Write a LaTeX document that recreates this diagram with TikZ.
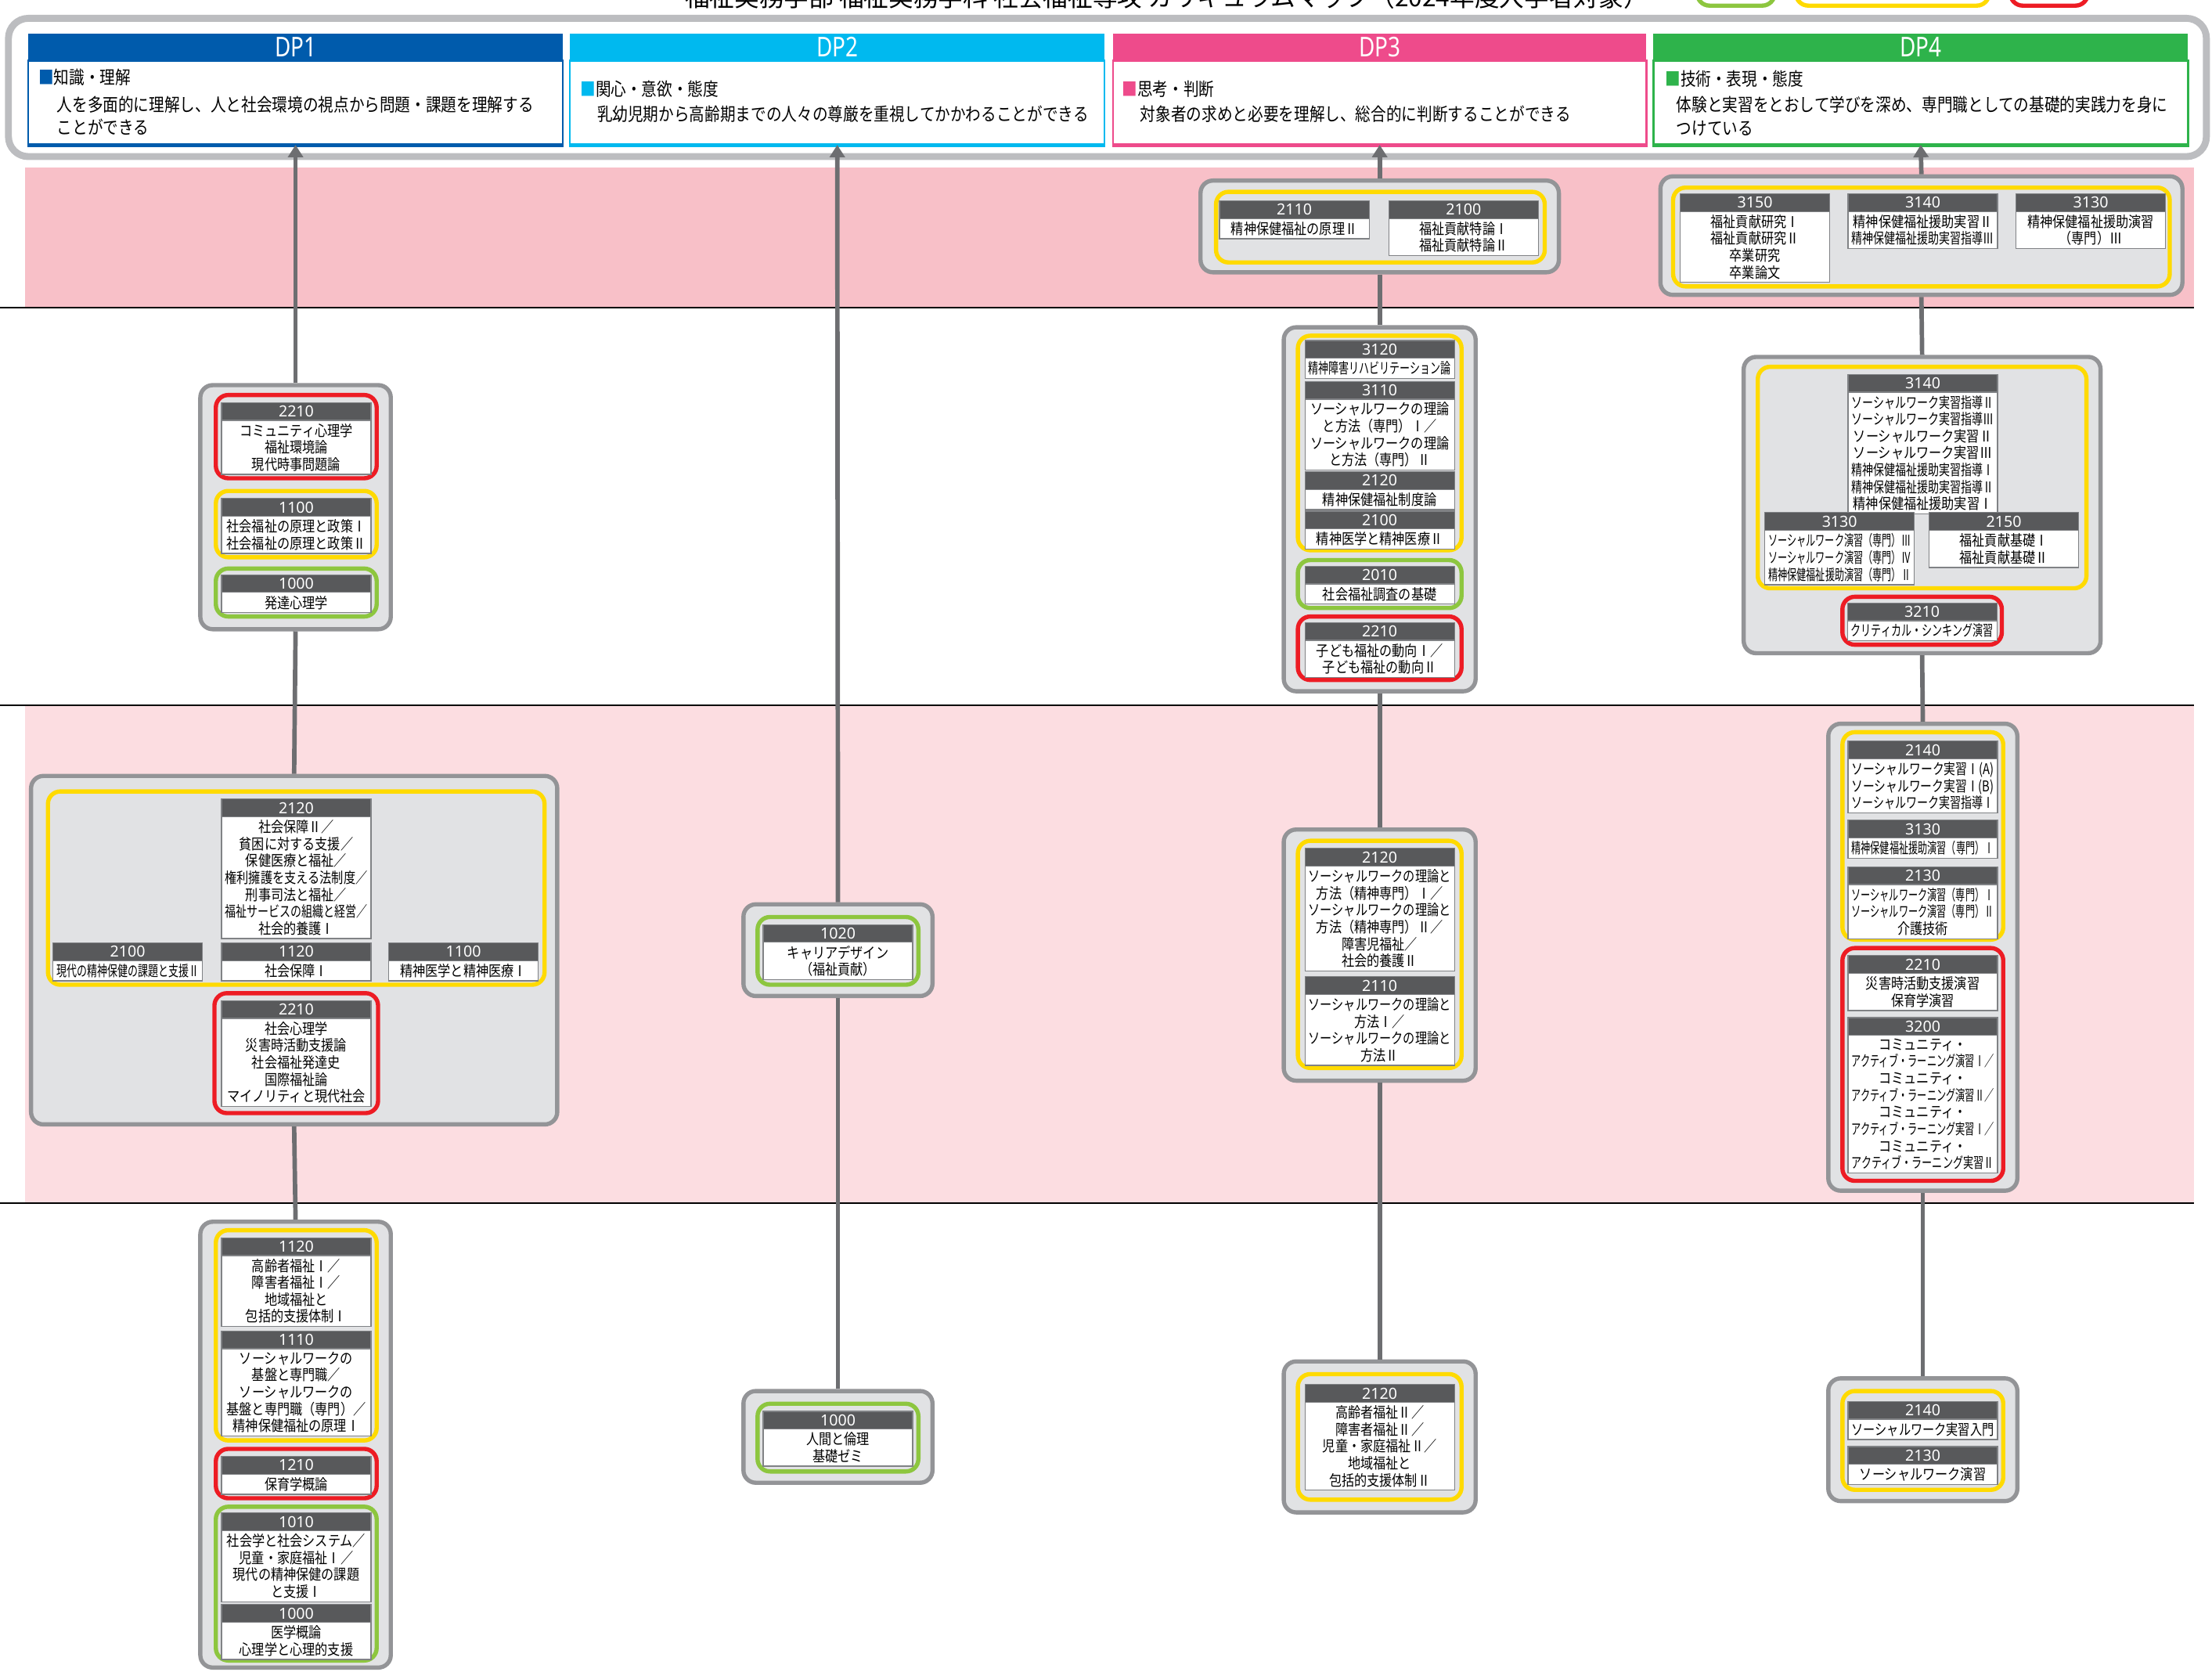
\documentclass[tikz,border=0pt]{standalone}
\usepackage{fontspec}
\usepackage{graphicx}
\usepackage{tikz}
\usetikzlibrary{arrows.meta}
\usetikzlibrary{shapes.multipart}
\usetikzlibrary{fit}

\newfontfamily\jpfont[FakeStretch=0.85]{Noto Sans CJK JP}
\newfontfamily\jpwide{Noto Sans CJK JP}
\newfontfamily\numfont{Noto Sans}
\newfontfamily\dpfont[FakeStretch=0.8]{Noto Sans}

\definecolor{dpone}{HTML}{005BAC}
\definecolor{dptwo}{HTML}{00B9EF}
\definecolor{dpthree}{HTML}{EE4B8B}
\definecolor{dpfour}{HTML}{2EB34B}
\definecolor{bandtop}{HTML}{F8C0C8}
\definecolor{bandmid}{HTML}{FCDDE1}
\definecolor{grpfill}{HTML}{E1E2E4}
\definecolor{grpline}{HTML}{939497}
\definecolor{fryel}{HTML}{FFDA00}
\definecolor{frgrn}{HTML}{8DC63F}
\definecolor{frred}{HTML}{ED1C24}
\definecolor{cardhead}{HTML}{58595B}
\definecolor{cardline}{HTML}{808285}
\definecolor{linkgray}{HTML}{6D6E71}
\definecolor{hdrline}{HTML}{BCBDC0}

\newsavebox\linebox
\newcommand{\cno}[1]{\textcolor{white}{\numfont\fontsize{6.2}{6.2}\selectfont #1}}
\newcommand{\nw}[1]{\sbox\linebox{#1}\ifdim\wd\linebox>2.02cm\resizebox{2.02cm}{\height}{#1}\else\usebox\linebox\fi}

\tikzstyle{grp}=[draw=grpline, fill=grpfill, line width=1.7pt, rounded corners=5pt, inner sep=0pt]
\tikzstyle{yfr}=[draw=fryel, line width=1.7pt, rounded corners=5pt, inner sep=0pt]
\tikzstyle{gfr}=[draw=frgrn, line width=1.7pt, rounded corners=5pt, inner sep=0pt]
\tikzstyle{rfr}=[draw=frred, line width=1.7pt, rounded corners=5pt, inner sep=0pt]
\tikzstyle{card}=[rectangle split, rectangle split parts=2, draw=cardline, line width=0.4pt, rectangle split part fill={cardhead,white}, text width=2.04cm, inner xsep=0.04cm, inner ysep=1.1pt, align=center, anchor=north, font=\jpfont\fontsize{6}{6.83}\selectfont]
\tikzstyle{dphead}=[inner sep=0pt]
\tikzstyle{dptitle}=[inner sep=0pt, text=white, font=\dpfont\fontsize{11}{12}\selectfont]
\tikzstyle{dpbody}=[fill=white, line width=0.8pt, inner sep=0pt]
\tikzstyle{dptext}=[anchor=west, inner sep=0pt, font=\jpfont\fontsize{7.3}{8}\selectfont]
\tikzstyle{link}=[draw=linkgray, line width=1.8pt]
\tikzstyle{uplink}=[link, -{Triangle[width=6pt,length=5pt]}]

\begin{document}
\begin{tikzpicture}[x=0.02cm, y=-0.02cm]
      \useasboundingbox (0,0) rectangle (1568,1185);
      \clip (0,0) rectangle (1568,1185);

      % year bands
      \fill[bandtop] (18,119) rectangle (1555,218);
      \fill[bandmid] (18,500) rectangle (1555,853);
      \draw[line width=0.6pt] (0,218) -- (1555,218);
      \draw[line width=0.6pt] (0,500) -- (1555,500);
      \draw[line width=0.6pt] (0,853) -- (1555,853);

      \node[anchor=base, inner sep=0pt, font=\jpwide\fontsize{10}{12}\selectfont] (title) at (827,4.5) {福祉実務学部 福祉実務学科 社会福祉専攻 カリキュラムマップ（2024年度入学者対象）};
      \node[gfr, fill=white, fit={(1203,-20) (1258,4)}] (leg1) {};
      \node[yfr, fill=white, fit={(1273,-20) (1410,4)}] (leg2) {};
      \node[rfr, fill=white, fit={(1425,-20) (1480,4)}] (leg3) {};

      \node[draw=hdrline, line width=2.8pt, rounded corners=8pt, inner sep=0pt, fit={(6,13) (1564,111)}] (frame) {};

      % DP boxes
      \node[dpbody, draw=dpone, fit={(20,43) (399,102)}] (dp1b) {};
      \node[dpbody, draw=dptwo, fit={(404,43) (783,102)}] (dp2b) {};
      \node[dpbody, draw=dpthree, fit={(789,43) (1167,102)}] (dp3b) {};
      \node[dpbody, draw=dpfour, fit={(1172,43) (1551,102)}] (dp4b) {};
      \draw[dpone, line width=1.6pt] (dp1b.south west) -- (dp1b.south east);
      \draw[dptwo, line width=1.6pt] (dp2b.south west) -- (dp2b.south east);
      \draw[dpthree, line width=1.6pt] (dp3b.south west) -- (dp3b.south east);
      \draw[dpfour, line width=1.6pt] (dp4b.south west) -- (dp4b.south east);
      \node[dphead, fill=dpone, fit={(20,24) (399,43)}] (dp1h) {};
      \node[dphead, fill=dptwo, fit={(404,24) (783,43)}] (dp2h) {};
      \node[dphead, fill=dpthree, fit={(789,24) (1167,43)}] (dp3h) {};
      \node[dphead, fill=dpfour, fit={(1172,24) (1551,43)}] (dp4h) {};
      \node[dptitle] (dp1n) at (dp1h) {DP1};
      \node[dptitle] (dp2n) at (dp2h) {DP2};
      \node[dptitle] (dp3n) at (dp3h) {DP3};
      \node[dptitle] (dp4n) at (dp4h) {DP4};

      \node[dptext] (dp1t1) at (27,55) {\textcolor{dpone}{■}知識・理解};
      \node[dptext] (dp1t2) at (40,74) {人を多面的に理解し、人と社会環境の視点から問題・課題を理解する};
      \node[dptext] (dp1t3) at (40,90) {ことができる};
      \node[dptext] (dp2t1) at (411,63) {\textcolor{dptwo}{■}関心・意欲・態度};
      \node[dptext] (dp2t2) at (423,81) {乳幼児期から高齢期までの人々の尊厳を重視してかかわることができる};
      \node[dptext] (dp3t1) at (795,63) {\textcolor{dpthree}{■}思考・判断};
      \node[dptext] (dp3t2) at (808,81) {対象者の求めと必要を理解し、総合的に判断することができる};
      \node[dptext] (dp4t1) at (1180,56) {\textcolor{dpfour}{■}技術・表現・態度};
      \node[dptext] (dp4t2) at (1188,74) {体験と実習をとおして学びを深め、専門職としての基礎的実践力を身に};
      \node[dptext] (dp4t3) at (1188,91) {つけている};

      % DP1
      \node[grp, fit={(142,273) (277,446)}] (ga1) {};
      \node[rfr, fit={(153,280) (267,339)}] {};
      \node[yfr, fit={(153,348) (267,395)}] {};
      \node[gfr, fit={(153,403) (267,437)}] {};
      \node[card] (ka11) at (210,285) {\cno{2210}\nodepart{two}コミュニティ心理学\\福祉環境論\\現代時事問題論};
      \node[card] (ka12) at (210,353) {\cno{1100}\nodepart{two}\nw{社会福祉の原理と政策Ⅰ}\\\nw{社会福祉の原理と政策Ⅱ}};
      \node[card] (ka13) at (210,407) {\cno{1000}\nodepart{two}発達心理学};

      \node[grp, fit={(22,550) (395,797)}] (ga2) {};
      \node[yfr, fit={(34,561) (386,698)}] {};
      \node[rfr, fit={(152,704) (268,789)}] {};
      \node[card] (ka21) at (210,566) {\cno{2120}\nodepart{two}社会保障Ⅱ／\\貧困に対する支援／\\保健医療と福祉／\\\nw{権利擁護を支える法制度／}\\刑事司法と福祉／\\\nw{福祉サービスの組織と経営／}\\社会的養護Ⅰ};
      \node[card] (ka22) at (90.5,668) {\cno{2100}\nodepart{two}\nw{現代の精神保健の課題と支援Ⅱ}};
      \node[card] (ka23) at (210,668) {\cno{1120}\nodepart{two}社会保障Ⅰ};
      \node[card] (ka24) at (328.5,668) {\cno{1100}\nodepart{two}\nw{精神医学と精神医療Ⅰ}};
      \node[card] (ka25) at (210,709) {\cno{2210}\nodepart{two}社会心理学\\災害時活動支援論\\社会福祉発達史\\国際福祉論\\\nw{マイノリティと現代社会}};

      \node[grp, fit={(142,866) (277,1182)}] (ga3) {};
      \node[yfr, fit={(153,872) (267,1021)}] {};
      \node[rfr, fit={(153,1027) (267,1062)}] {};
      \node[gfr, fit={(153,1068) (267,1177)}] {};
      \node[card] (ka31) at (210,877) {\cno{1120}\nodepart{two}高齢者福祉Ⅰ／\\障害者福祉Ⅰ／\\地域福祉と\\包括的支援体制Ⅰ};
      \node[card] (ka32) at (210,943) {\cno{1110}\nodepart{two}ソーシャルワークの\\基盤と専門職／\\ソーシャルワークの\\\nw{基盤と専門職（専門）／}\\\nw{精神保健福祉の原理Ⅰ}};
      \node[card] (ka33) at (210,1032) {\cno{1210}\nodepart{two}保育学概論};
      \node[card] (ka34) at (210,1072) {\cno{1010}\nodepart{two}\nw{社会学と社会システム／}\\児童・家庭福祉Ⅰ／\\\nw{現代の精神保健の課題}\\と支援Ⅰ};
      \node[card] (ka35) at (210,1137) {\cno{1000}\nodepart{two}医学概論\\心理学と心理的支援};

      % DP2
      \node[grp, fit={(527,641) (661,706)}] (gb1) {};
      \node[gfr, fit={(537,650) (651,698)}] {};
      \node[card] (kb11) at (594,655) {\cno{1020}\nodepart{two}キャリアデザイン\\（福祉貢献）};

      \node[grp, fit={(527,986) (661,1051)}] (gb2) {};
      \node[gfr, fit={(537,995) (651,1043)}] {};
      \node[card] (kb21) at (594,1000) {\cno{1000}\nodepart{two}人間と倫理\\基礎ゼミ};

      % DP3
      \node[grp, fit={(851,128) (1105,193)}] (gc1) {};
      \node[yfr, fit={(862,136) (1095,186)}] {};
      \node[card] (kc11) at (917.5,142) {\cno{2110}\nodepart{two}\nw{精神保健福祉の原理Ⅱ}};
      \node[card] (kc12) at (1037.5,142) {\cno{2100}\nodepart{two}福祉貢献特論Ⅰ\\福祉貢献特論Ⅱ};

      \node[grp, fit={(910,232) (1046,490)}] (gc2) {};
      \node[yfr, fit={(920,238) (1036,390)}] {};
      \node[gfr, fit={(920,397) (1036,431)}] {};
      \node[rfr, fit={(920,437) (1036,482)}] {};
      \node[card] (kc21) at (978,241) {\cno{3120}\nodepart{two}\nw{精神障害リハビリテーション論}};
      \node[card] (kc22) at (978,270) {\cno{3110}\nodepart{two}\nw{ソーシャルワークの理論}\\\nw{と方法（専門）Ⅰ／}\\\nw{ソーシャルワークの理論}\\\nw{と方法（専門）Ⅱ}};
      \node[card] (kc23) at (978,334) {\cno{2120}\nodepart{two}精神保健福祉制度論};
      \node[card] (kc24) at (978,362) {\cno{2100}\nodepart{two}\nw{精神医学と精神医療Ⅱ}};
      \node[card] (kc25) at (978,401) {\cno{2010}\nodepart{two}社会福祉調査の基礎};
      \node[card] (kc26) at (978,441) {\cno{2210}\nodepart{two}\nw{子ども福祉の動向Ⅰ／}\\\nw{子ども福祉の動向Ⅱ}};

      \node[grp, fit={(910,588) (1046,766)}] (gc3) {};
      \node[yfr, fit={(920,596) (1036,757)}] {};
      \node[card] (kc31) at (978,601) {\cno{2120}\nodepart{two}\nw{ソーシャルワークの理論と}\\\nw{方法（精神専門）Ⅰ／}\\\nw{ソーシャルワークの理論と}\\\nw{方法（精神専門）Ⅱ／}\\障害児福祉／\\社会的養護Ⅱ};
      \node[card] (kc32) at (978,692) {\cno{2110}\nodepart{two}\nw{ソーシャルワークの理論と}\\方法Ⅰ／\\\nw{ソーシャルワークの理論と}\\方法Ⅱ};

      \node[grp, fit={(910,965) (1046,1072)}] (gc4) {};
      \node[yfr, fit={(920,974) (1036,1063)}] {};
      \node[card] (kc41) at (978,981) {\cno{2120}\nodepart{two}高齢者福祉Ⅱ／\\障害者福祉Ⅱ／\\児童・家庭福祉Ⅱ／\\地域福祉と\\包括的支援体制Ⅱ};

      % DP4
      \node[grp, fit={(1177,125) (1547,209)}] (gd1) {};
      \node[yfr, fit={(1186,133) (1538,203)}] {};
      \node[card] (kd11) at (1244,137) {\cno{3150}\nodepart{two}福祉貢献研究Ⅰ\\福祉貢献研究Ⅱ\\卒業研究\\卒業論文};
      \node[card] (kd12) at (1363,137) {\cno{3140}\nodepart{two}\nw{精神保健福祉援助実習Ⅱ}\\\nw{精神保健福祉援助実習指導Ⅲ}};
      \node[card] (kd13) at (1482,137) {\cno{3130}\nodepart{two}\nw{精神保健福祉援助演習}\\（専門）Ⅲ};

      \node[grp, fit={(1236,253) (1489,463)}] (gd2) {};
      \node[yfr, fit={(1246,260) (1479,417)}] {};
      \node[rfr, fit={(1306,423) (1419,457)}] {};
      \node[card] (kd21) at (1363,265) {\cno{3140}\nodepart{two}\nw{ソーシャルワーク実習指導Ⅱ}\\\nw{ソーシャルワーク実習指導Ⅲ}\\\nw{ソーシャルワーク実習Ⅱ}\\\nw{ソーシャルワーク実習Ⅲ}\\\nw{精神保健福祉援助実習指導Ⅰ}\\\nw{精神保健福祉援助実習指導Ⅱ}\\\nw{精神保健福祉援助実習Ⅰ}};
      \node[card] (kd22) at (1304,363) {\cno{3130}\nodepart{two}\nw{ソーシャルワーク演習（専門）Ⅲ}\\\nw{ソーシャルワーク演習（専門）Ⅳ}\\\nw{精神保健福祉援助演習（専門）Ⅱ}};
      \node[card] (kd23) at (1420.5,363) {\cno{2150}\nodepart{two}福祉貢献基礎Ⅰ\\福祉貢献基礎Ⅱ};
      \node[card] (kd24) at (1362.5,427) {\cno{3210}\nodepart{two}\nw{クリティカル・シンキング演習}};

      \node[grp, fit={(1296,513) (1430,844)}] (gd3) {};
      \node[yfr, fit={(1306,519) (1420,666)}] {};
      \node[rfr, fit={(1306,672) (1420,837)}] {};
      \node[card] (kd31) at (1363,525) {\cno{2140}\nodepart{two}\nw{ソーシャルワーク実習Ⅰ(A)}\\\nw{ソーシャルワーク実習Ⅰ(B)}\\\nw{ソーシャルワーク実習指導Ⅰ}};
      \node[card] (kd32) at (1363,581) {\cno{3130}\nodepart{two}\nw{精神保健福祉援助演習（専門）Ⅰ}};
      \node[card] (kd33) at (1363,614) {\cno{2130}\nodepart{two}\nw{ソーシャルワーク演習（専門）Ⅰ}\\\nw{ソーシャルワーク演習（専門）Ⅱ}\\介護技術};
      \node[card] (kd34) at (1363,677) {\cno{2210}\nodepart{two}災害時活動支援演習\\保育学演習};
      \node[card] (kd35) at (1363,721) {\cno{3200}\nodepart{two}コミュニティ・\\\nw{アクティブ・ラーニング演習Ⅰ／}\\コミュニティ・\\\nw{アクティブ・ラーニング演習Ⅱ／}\\コミュニティ・\\\nw{アクティブ・ラーニング実習Ⅰ／}\\コミュニティ・\\\nw{アクティブ・ラーニング実習Ⅱ}};

      \node[grp, fit={(1296,977) (1430,1064)}] (gd4) {};
      \node[yfr, fit={(1306,986) (1420,1056)}] {};
      \node[card] (kd41) at (1363,993) {\cno{2140}\nodepart{two}\nw{ソーシャルワーク実習入門}};
      \node[card] (kd42) at (1363,1025) {\cno{2130}\nodepart{two}\nw{ソーシャルワーク演習}};

      % links
      \draw[uplink] (ga1.north) -- (dp1b.south);
      \draw[link] (ga1.south) -- (ga2.north);
      \draw[link] (ga2.south) -- (ga3.north);
      \draw[uplink] (gb1.north) -- (dp2b.south);
      \draw[link] (gb2.north) -- (gb1.south);
      \draw[uplink] (gc1.north) -- (dp3b.south);
      \draw[link] (gc2.north) -- (gc1.south);
      \draw[link] (gc3.north) -- (gc2.south);
      \draw[link] (gc4.north) -- (gc3.south);
      \draw[uplink] (gd1.north) -- (dp4b.south);
      \draw[link] (gd2.north) -- (gd1.south);
      \draw[link] (gd3.north) -- (gd2.south);
      \draw[link] (gd4.north) -- (gd3.south);

    \end{tikzpicture}
\end{document}
